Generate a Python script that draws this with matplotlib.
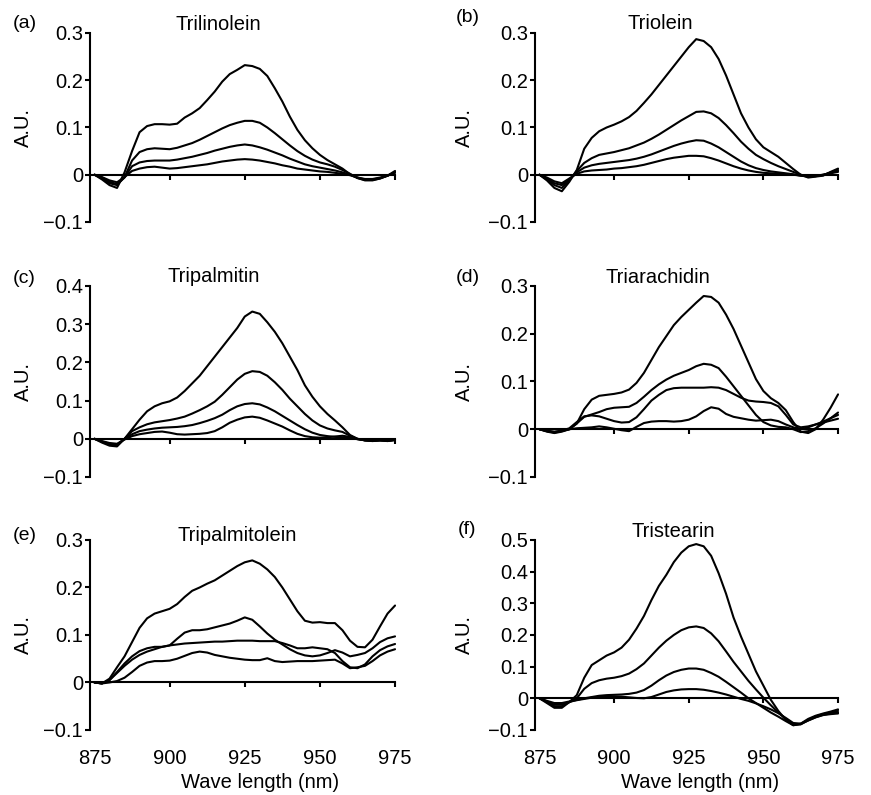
import numpy as np
import matplotlib
matplotlib.use("Agg")
import matplotlib.pyplot as plt
from matplotlib.ticker import FuncFormatter

plt.rcParams['font.family'] = ['Liberation Sans', 'DejaVu Sans']

# wavelength grid (nm)
wl = [875, 877.5, 880, 882.5, 885, 887.5, 890, 892.5, 895, 897.5,
      900, 902.5, 905, 907.5, 910, 912.5, 915, 917.5, 920, 922.5,
      925, 927.5, 930, 932.5, 935, 937.5, 940, 942.5, 945, 947.5,
      950, 952.5, 955, 957.5, 960, 962.5, 965, 967.5, 970, 972.5, 975]

# (a) Trilinolein - four spectra
trilinolein = [
    [0.0, -0.01, -0.022, -0.028, 0.005, 0.05, 0.09, 0.103, 0.107, 0.107,
     0.106, 0.108, 0.121, 0.13, 0.141, 0.158, 0.176, 0.197, 0.213, 0.222,
     0.232, 0.23, 0.224, 0.209, 0.183, 0.155, 0.123, 0.095, 0.073, 0.056,
     0.042, 0.031, 0.022, 0.013, 0.001, -0.007, -0.012, -0.012, -0.008, -0.002, 0.008],
    [0.0, -0.008, -0.018, -0.022, -0.005, 0.03, 0.048, 0.054, 0.056, 0.055,
     0.054, 0.057, 0.062, 0.067, 0.074, 0.082, 0.09, 0.098, 0.105, 0.11,
     0.114, 0.114, 0.11, 0.1, 0.088, 0.075, 0.062, 0.05, 0.04, 0.032,
     0.026, 0.022, 0.017, 0.01, 0.002, -0.007, -0.011, -0.011, -0.008, -0.002, 0.006],
    [0.0, -0.006, -0.015, -0.02, -0.006, 0.018, 0.026, 0.029, 0.03, 0.03,
     0.03, 0.032, 0.035, 0.038, 0.042, 0.046, 0.051, 0.055, 0.059, 0.062,
     0.064, 0.062, 0.058, 0.053, 0.047, 0.041, 0.034, 0.028, 0.022, 0.018,
     0.015, 0.012, 0.009, 0.005, 0.0, -0.006, -0.01, -0.01, -0.007, -0.002, 0.005],
    [0.0, -0.005, -0.012, -0.016, -0.005, 0.008, 0.013, 0.016, 0.017, 0.015,
     0.013, 0.014, 0.016, 0.018, 0.02, 0.022, 0.025, 0.028, 0.03, 0.032,
     0.033, 0.032, 0.03, 0.027, 0.024, 0.02, 0.017, 0.013, 0.011, 0.009,
     0.007, 0.006, 0.004, 0.002, -0.001, -0.006, -0.009, -0.009, -0.006, -0.002, 0.004],
]

# (b) Triolein
triolein = [
    [0.0, -0.012, -0.028, -0.035, -0.015, 0.01, 0.055, 0.078, 0.092, 0.1,
     0.106, 0.113, 0.122, 0.135, 0.152, 0.17, 0.19, 0.21, 0.23, 0.25,
     0.27, 0.287, 0.283, 0.27, 0.245, 0.21, 0.17, 0.13, 0.1, 0.075,
     0.058, 0.048, 0.038, 0.025, 0.012, 0.0, -0.006, -0.004, -0.002, 0.006, 0.013],
    [0.0, -0.01, -0.022, -0.028, -0.012, 0.008, 0.025, 0.035, 0.042, 0.045,
     0.048, 0.052, 0.056, 0.062, 0.068, 0.076, 0.085, 0.095, 0.105, 0.115,
     0.124, 0.133, 0.134, 0.13, 0.12, 0.105, 0.088, 0.07, 0.055, 0.042,
     0.033, 0.025, 0.018, 0.012, 0.006, 0.0, -0.004, -0.003, -0.001, 0.005, 0.01],
    [0.0, -0.008, -0.018, -0.022, -0.01, 0.005, 0.015, 0.02, 0.023, 0.025,
     0.027, 0.029, 0.031, 0.034, 0.038, 0.043, 0.049, 0.055, 0.061, 0.066,
     0.07, 0.073, 0.072, 0.066, 0.058, 0.048, 0.038, 0.028, 0.02, 0.014,
     0.01, 0.007, 0.005, 0.003, 0.001, -0.002, -0.004, -0.003, 0.0, 0.004, 0.008],
    [0.0, -0.006, -0.014, -0.018, -0.008, 0.002, 0.007, 0.009, 0.01, 0.011,
     0.013, 0.014, 0.016, 0.018, 0.021, 0.025, 0.029, 0.033, 0.036, 0.038,
     0.04, 0.04, 0.039, 0.035, 0.03, 0.024, 0.018, 0.013, 0.009, 0.006,
     0.004, 0.003, 0.002, 0.001, 0.0, -0.002, -0.003, -0.002, 0.0, 0.003, 0.006],
]

# (c) Tripalmitin
tripalmitin = [
    [0.0, -0.01, -0.018, -0.02, 0.0, 0.025, 0.05, 0.072, 0.085, 0.093,
     0.098, 0.108, 0.125, 0.145, 0.165, 0.19, 0.215, 0.24, 0.265, 0.29,
     0.32, 0.333, 0.327, 0.305, 0.28, 0.25, 0.215, 0.18, 0.14, 0.11,
     0.085, 0.065, 0.048, 0.03, 0.01, 0.0, -0.004, -0.006, -0.004, -0.006, -0.003],
    [0.0, -0.008, -0.015, -0.017, 0.0, 0.02, 0.03, 0.038, 0.043, 0.046,
     0.049, 0.053, 0.058, 0.066, 0.075, 0.085, 0.097, 0.115, 0.135, 0.155,
     0.17, 0.177, 0.175, 0.165, 0.148, 0.128, 0.105, 0.085, 0.065, 0.048,
     0.035, 0.027, 0.022, 0.018, 0.008, 0.0, -0.004, -0.005, -0.004, -0.005, -0.003],
    [0.0, -0.007, -0.013, -0.015, 0.0, 0.012, 0.02, 0.024, 0.027, 0.029,
     0.03, 0.031, 0.033, 0.036, 0.041, 0.047, 0.054, 0.063, 0.075, 0.085,
     0.091, 0.093, 0.09, 0.082, 0.072, 0.06, 0.048, 0.036, 0.025, 0.016,
     0.01, 0.007, 0.005, 0.004, 0.002, -0.001, -0.004, -0.005, -0.004, -0.005, -0.003],
    [0.0, -0.006, -0.011, -0.013, -0.002, 0.007, 0.012, 0.015, 0.018, 0.019,
     0.016, 0.012, 0.011, 0.012, 0.013, 0.015, 0.02, 0.03, 0.042, 0.05,
     0.056, 0.058, 0.055, 0.048, 0.04, 0.032, 0.022, 0.013, 0.007, 0.004,
     0.003, 0.004, 0.006, 0.008, 0.005, -0.001, -0.004, -0.005, -0.004, -0.005, -0.003],
]

# (d) Triarachidin
triarachidin = [
    [0.0, -0.005, -0.008, -0.005, 0.0, 0.012, 0.042, 0.062, 0.07, 0.072,
     0.074, 0.077, 0.083, 0.097, 0.118, 0.145, 0.172, 0.195, 0.218, 0.235,
     0.25, 0.265, 0.279, 0.277, 0.265, 0.24, 0.21, 0.175, 0.14, 0.105,
     0.08, 0.065, 0.055, 0.04, 0.015, -0.005, -0.008, 0.0, 0.02, 0.045, 0.073],
    [0.0, -0.004, -0.007, -0.004, 0.0, 0.012, 0.026, 0.031, 0.036, 0.042,
     0.045, 0.046, 0.047, 0.055, 0.068, 0.082, 0.094, 0.104, 0.112, 0.118,
     0.124, 0.132, 0.137, 0.135, 0.128, 0.11, 0.09, 0.07, 0.05, 0.03,
     0.015, 0.008, 0.005, 0.004, 0.0, -0.006, -0.004, 0.002, 0.012, 0.023, 0.035],
    [0.0, -0.004, -0.006, -0.003, 0.002, 0.015, 0.027, 0.029, 0.027, 0.022,
     0.017, 0.014, 0.015, 0.025, 0.042, 0.06, 0.072, 0.082, 0.086, 0.087,
     0.087, 0.087, 0.087, 0.088, 0.087, 0.082, 0.074, 0.066, 0.06, 0.058,
     0.057, 0.055, 0.048, 0.03, 0.01, 0.004, 0.006, 0.01, 0.014, 0.018, 0.022],
    [0.0, -0.003, -0.005, -0.003, 0.0, 0.002, 0.003, 0.004, 0.006, 0.004,
     0.001, -0.002, -0.004, 0.005, 0.013, 0.016, 0.017, 0.017, 0.016, 0.017,
     0.02, 0.027, 0.038, 0.046, 0.043, 0.032, 0.026, 0.023, 0.02, 0.018,
     0.019, 0.02, 0.017, 0.01, 0.004, 0.0, 0.004, 0.01, 0.016, 0.023, 0.03],
]

# (e) Tripalmitolein
tripalmitolein = [
    [0.0, -0.002, 0.008, 0.032, 0.055, 0.085, 0.115, 0.135, 0.145, 0.15,
     0.155, 0.165, 0.18, 0.193, 0.2, 0.208, 0.215, 0.225, 0.235, 0.245,
     0.253, 0.257, 0.25, 0.238, 0.222, 0.2, 0.175, 0.15, 0.13, 0.126,
     0.127, 0.125, 0.125, 0.11, 0.088, 0.075, 0.074, 0.09, 0.118, 0.145, 0.162],
    [0.0, -0.002, 0.005, 0.022, 0.04, 0.055, 0.066, 0.072, 0.075, 0.075,
     0.078, 0.092, 0.105, 0.11, 0.11, 0.112, 0.116, 0.12, 0.124, 0.13,
     0.137, 0.132, 0.118, 0.103, 0.09, 0.08, 0.07, 0.062, 0.057, 0.055,
     0.057, 0.062, 0.068, 0.063, 0.055, 0.058, 0.062, 0.072, 0.085, 0.093, 0.097],
    [0.0, -0.002, 0.005, 0.02, 0.035, 0.048, 0.058, 0.065, 0.07, 0.075,
     0.078, 0.08, 0.082, 0.083, 0.084, 0.085, 0.086, 0.086, 0.087, 0.088,
     0.088, 0.088, 0.087, 0.087, 0.087, 0.083, 0.078, 0.072, 0.072, 0.074,
     0.072, 0.07, 0.062, 0.045, 0.032, 0.03, 0.038, 0.055, 0.068, 0.076, 0.081],
    [0.0, -0.002, 0.0, 0.003, 0.01, 0.022, 0.035, 0.042, 0.045, 0.045,
     0.046, 0.05, 0.056, 0.062, 0.065, 0.063, 0.058, 0.055, 0.052, 0.05,
     0.048, 0.047, 0.047, 0.051, 0.045, 0.043, 0.044, 0.045, 0.045, 0.045,
     0.046, 0.047, 0.048, 0.04, 0.03, 0.032, 0.035, 0.045, 0.057, 0.065, 0.07],
]

# (f) Tristearin
tristearin = [
    [0.0, -0.015, -0.03, -0.03, -0.012, 0.01, 0.065, 0.105, 0.12, 0.135,
     0.145, 0.16, 0.185, 0.22, 0.26, 0.31, 0.355, 0.39, 0.43, 0.46,
     0.48, 0.487, 0.48, 0.45, 0.395, 0.33, 0.255, 0.195, 0.14, 0.085,
     0.04, -0.005, -0.04, -0.068, -0.085, -0.08, -0.065, -0.055, -0.048, -0.042, -0.035],
    [0.0, -0.012, -0.025, -0.025, -0.012, 0.0, 0.03, 0.048, 0.057, 0.062,
     0.065, 0.07, 0.078, 0.092, 0.11, 0.135, 0.16, 0.182, 0.2, 0.215,
     0.224, 0.227, 0.222, 0.205, 0.18, 0.148, 0.115, 0.085, 0.055, 0.028,
     0.002, -0.022, -0.045, -0.065, -0.082, -0.082, -0.068, -0.057, -0.05, -0.045, -0.04],
    [0.0, -0.01, -0.02, -0.02, -0.012, -0.005, 0.0, 0.004, 0.008, 0.01,
     0.011, 0.012, 0.014, 0.018, 0.026, 0.04, 0.057, 0.072, 0.083, 0.09,
     0.094, 0.094, 0.09, 0.08, 0.068, 0.052, 0.035, 0.018, 0.0, -0.015,
     -0.03, -0.045, -0.058, -0.072, -0.085, -0.082, -0.07, -0.06, -0.052, -0.048, -0.045],
    [0.0, -0.008, -0.015, -0.015, -0.01, -0.006, -0.002, 0.002, 0.005, 0.006,
     0.006, 0.005, 0.003, 0.001, 0.0, 0.004, 0.012, 0.02, 0.025, 0.028,
     0.029, 0.029, 0.027, 0.023, 0.018, 0.012, 0.005, -0.002, -0.008, -0.016,
     -0.025, -0.035, -0.047, -0.062, -0.078, -0.08, -0.07, -0.06, -0.053, -0.05, -0.048],
]

names = ['Trilinolein', 'Triolein', 'Tripalmitin', 'Triarachidin', 'Tripalmitolein', 'Tristearin']
letters = ['(a)', '(b)', '(c)', '(d)', '(e)', '(f)']
spectra = [trilinolein, triolein, tripalmitin, triarachidin, tripalmitolein, tristearin]
ytops = [0.3, 0.3, 0.4, 0.3, 0.3, 0.5]
xticks = [875, 900, 925, 950, 975]

# layout (figure fractions), picked to line up with the original
lefts = [0.1033, 0.6142]
widths = [0.3513, 0.349]
bottoms = [0.7208, 0.4000, 0.0818]
heights = [0.2377, 0.2403, 0.2390]
title_x = [0.418, 0.411, 0.405, 0.405, 0.48, 0.454]
title_y = [1.018, 1.02, 1.021, 1.016, 0.995, 1.016]
letter_xy = [(13, 24), (456, 18), (13, 279), (456, 278), (13, 535), (458, 530)]

fs = 14.5
W, H = 871, 795
fig = plt.figure(figsize=(W / 100, H / 100), dpi=100)


def fmt(v, pos):
    if abs(v) < 1e-9:
        return '0'
    return f'{v:.1f}'.replace('-', '\u2212')


for i in range(6):
    r, c = divmod(i, 2)
    ax = fig.add_axes([lefts[c], bottoms[r], widths[c], heights[r]])
    for s in spectra[i]:
        ax.plot(wl, s, color='black', lw=1.5, solid_capstyle='round')

    ax.set_xlim(873.5, 975.3)
    ax.set_ylim(-0.1, ytops[i])
    ax.set_yticks(np.arange(-0.1, ytops[i] + 0.01, 0.1))
    ax.yaxis.set_major_formatter(FuncFormatter(fmt))
    ax.set_xticks(xticks[1:])

    for sp in ['top', 'right']:
        ax.spines[sp].set_visible(False)
    ax.spines['bottom'].set_position(('data', 0))
    ax.spines['bottom'].set_bounds(873.5, 975)
    for sp in ['left', 'bottom']:
        ax.spines[sp].set_linewidth(1.5)
    ax.tick_params(axis='both', direction='out', length=3.5, width=1.5,
                   labelsize=fs, pad=1.5)
    ax.tick_params(axis='x', labelbottom=False)

    ax.set_ylabel('A.U.', fontsize=fs)
    ax.yaxis.set_label_coords(-0.185 if c == 0 else -0.2, 0.5)

    ax.text(title_x[i], title_y[i], names[i], transform=ax.transAxes,
            ha='center', va='baseline', fontsize=fs)
    fig.text(letter_xy[i][0] / W, 1 - letter_xy[i][1] / H, letters[i],
             ha='left', va='center', fontsize=fs - 0.5)

    if r == 2:
        sec = ax.secondary_xaxis(0)
        sec.set_xticks(xticks)
        sec.spines['bottom'].set_visible(False)
        sec.tick_params(length=0, pad=14, labelsize=fs)
        ax.text(0.556 if c == 0 else 0.543, -0.305, 'Wave length (nm)',
                transform=ax.transAxes, ha='center', va='baseline', fontsize=fs)

fig.savefig('out.png', dpi=100)
